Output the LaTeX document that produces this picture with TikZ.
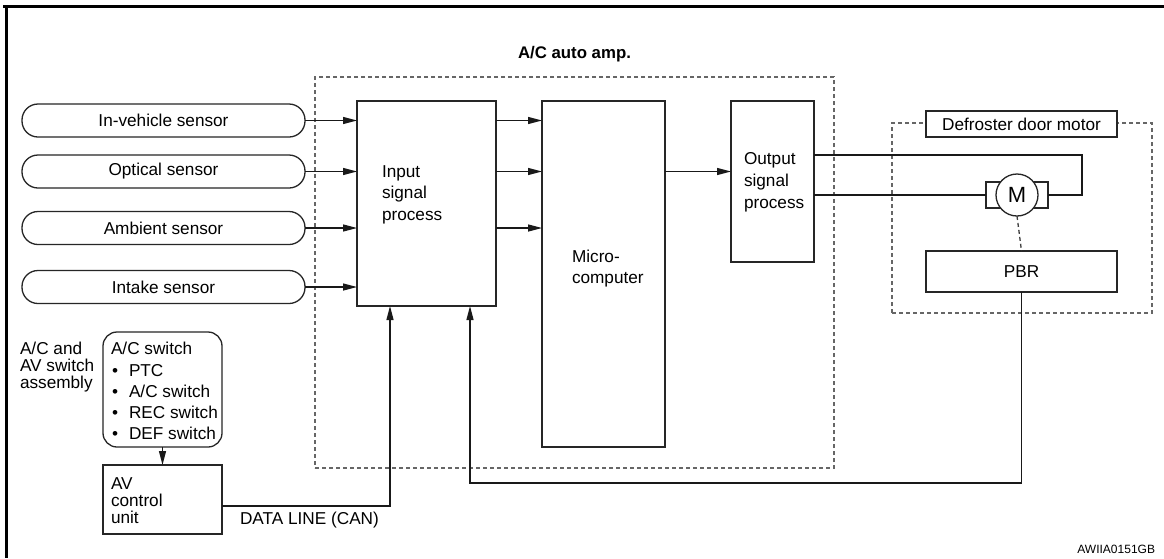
\documentclass[tikz,border=0pt]{standalone}
\usepackage{fontspec}
\setmainfont{Liberation Sans}
\usetikzlibrary{arrows.meta}
\begin{document}
\begin{tikzpicture}[x=1pt,y=-1pt,
  every node/.style={font=\fontsize{17.2}{20}\selectfont, inner sep=0pt, outer sep=0pt},
  box/.style={draw=black!85, line width=1.3pt, rectangle, fill=white},
  dbox/.style={draw=black!60, line width=1.3pt, dash pattern=on 4pt off 3pt, rectangle},
  sens/.style={box, rounded corners=16pt, minimum width=283pt, minimum height=33pt},
  wire/.style={line width=1.3pt, draw=black!90},
  arr/.style={wire, -{Triangle[length=14pt,width=7pt]}},
  tl/.style={anchor=base west},
]
\path[use as bounding box, fill=white] (0,0) rectangle (1164,558);
% frame
\draw[line width=3pt] (3,6) -- (1164,6);
\draw[line width=3pt] (6,6) -- (6,558);

% A/C auto amp dashed box
\node[dbox, minimum width=519pt, minimum height=391pt] (amp) at (574.5,272.5) {};
\node[tl, font=\fontsize{16.8}{20}\selectfont\bfseries] (amplbl) at (518,58) {A/C auto amp.};

% boxes in amp
\node[box, minimum width=139pt, minimum height=205pt] (in) at (426.5,203.5) {};
\node[box, minimum width=123pt, minimum height=346pt] (mc) at (603.5,274) {};
\node[box, minimum width=83pt, minimum height=161pt] (out) at (772.5,181.5) {};

\foreach \t [count=\i] in {Input,signal,process}
  \node[tl] (inl\i) at (382,{177+21.5*(\i-1)}) {\t};
\node[tl] (mcl1) at (572,262) {Micro-};
\node[tl] (mcl2) at (572,283) {computer};
\foreach \t [count=\i] in {Output,signal,process}
  \node[tl] (outl\i) at (744,{164+22*(\i-1)}) {\t};

% sensors
\node[sens] (s1) at (163.5,120.5) {In-vehicle sensor};
\node[sens] (s2) at (163.5,171.5) {Optical sensor};
\node[sens] (s3) at (163.5,228) {Ambient sensor};
\node[sens] (s4) at (163.5,287) {Intake sensor};
\foreach \i in {1,...,4}
  \draw[arr] (s\i.east) -- (s\i.east -| in.west);

% input -> micro
\foreach \i in {1,2,3}
  \draw[arr] (in.east |- s\i.east) -- (mc.west |- s\i.east);
% micro -> output
\draw[arr] (mc.east |- s2.east) -- (out.west |- s2.east);

% defroster door motor
\node[dbox, minimum width=260pt, minimum height=190pt] (defr) at (1022,218) {};
\node[box, minimum width=191pt, minimum height=26pt] (ddm) at (1021.5,124) {Defroster door motor};
\node[box, minimum width=191pt, minimum height=41pt] (pbr) at (1021.5,271.5) {PBR};
\node[box, minimum width=62pt, minimum height=26pt] (mot) at (1017,195) {};
\node[box, circle, minimum size=42pt, font=\fontsize{22}{24}\selectfont] (motc) at (1017,195) {M};

% output wires
\coordinate (turn) at (1082,155);
\draw[wire] (out.east |- turn) -- (turn) |- (mot.east);
\draw[wire] (out.east |- mot.west) -- (mot.west);
\draw[dbox, draw=black!75] (motc.south) -- (pbr.north);

% feedback from PBR
\coordinate (fb) at (470,483);
\draw[arr] (pbr.south) |- (fb) -- (fb |- in.south);

% A/C and AV switch assembly
\foreach \t [count=\i] in {A/C and,AV switch,assembly}
  \node[tl] (asl\i) at (20,{354+17*(\i-1)}) {\t};
\node[box, rounded corners=14pt, minimum width=119pt, minimum height=115pt] (acsw) at (162.5,389.5) {};
\node[tl] (acswt) at (111,354) {A/C switch};
\foreach \t [count=\i] in {PTC,A/C switch,REC switch,DEF switch}{
  \node[tl] (bul\i) at (112,{376+21*(\i-1)}) {•};
  \node[tl] (acl\i) at (129,{376+21*(\i-1)}) {\t};
}
\node[box, minimum width=119pt, minimum height=69pt] (av) at (162.5,499.5) {};
\foreach \t [count=\i] in {AV,control,unit}
  \node[tl] (avl\i) at (111,{489+17*(\i-1)}) {\t};
\draw[arr] (acsw.south) -- (av.north);

% data line
\coordinate (dl) at (390,506);
\draw[arr] (av.east |- dl) -- (dl) -- (dl |- in.south);
\node[tl] (dltxt) at (240,524) {DATA LINE (CAN)};

\node[anchor=base east, font=\fontsize{12}{14}\selectfont] (code) at (1155,553) {AWIIA0151GB};
\end{tikzpicture}
\end{document}
